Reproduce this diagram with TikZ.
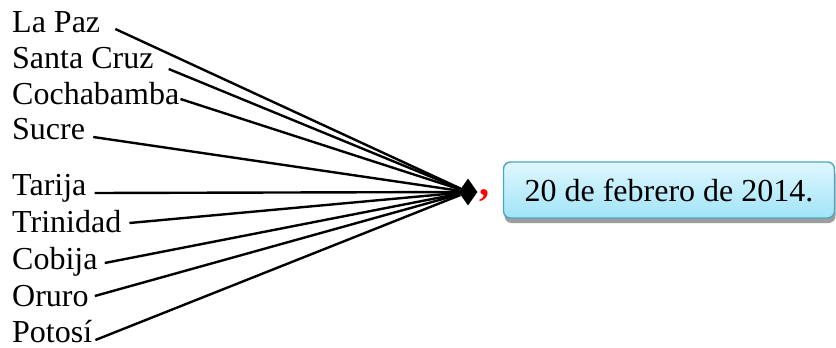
\documentclass[tikz,border=0pt]{standalone}
\usepackage{fontspec}
\setmainfont{Liberation Serif}
\usetikzlibrary{shapes.geometric,shadows}
\definecolor{boxtop}{RGB}{224,247,254}
\definecolor{boxbot}{RGB}{160,228,248}
\definecolor{boxline}{RGB}{78,166,194}

\begin{document}
\begin{tikzpicture}[
      x=1pt, y=-1pt,
      city/.style={anchor=base west, inner sep=0pt, font=\fontsize{32pt}{38pt}\selectfont},
      conn/.style={line width=2.4pt, color=black},
      hubmark/.style={diamond, fill=black, inner sep=0pt, minimum width=19pt, minimum height=27pt},
      datebox/.style={rounded corners=7pt, draw=boxline, line width=1.4pt, top color=boxtop, bottom color=boxbot,
        minimum width=331pt, minimum height=56pt, inner sep=0pt, font=\fontsize{32pt}{38pt}\selectfont,
        drop shadow={shadow xshift=1pt, shadow yshift=-5pt, opacity=0.55, fill=black!70}}
    ]
      \useasboundingbox (0,0) rectangle (836,348);

      % cities
      \node[city] (lapaz) at (12,32) {La Paz};
      \node[city] (santacruz) at (12,68) {Santa Cruz};
      \node[city] (cochabamba) at (12,104) {Cochabamba};
      \node[city] (sucre) at (12,139) {Sucre};
      \node[city] (tarija) at (12,195) {Tarija};
      \node[city] (trinidad) at (12,232) {Trinidad};
      \node[city] (cobija) at (12,269) {Cobija};
      \node[city] (oruro) at (12,306) {Oruro};
      \node[city] (potosi) at (12,342) {Potosí};

      % meeting point
      \node[hubmark] (hub) at (468,192) {};
      \node[anchor=base west, inner sep=0pt, text=red, font=\bfseries\fontsize{40pt}{40pt}\selectfont] (comma) at (479,195) {,};

      % date
      \node[datebox] (date) at (669,190) {20 de febrero de 2014.};

      \draw[conn] ([shift={(15,-3)}]lapaz.base east) -- (hub);
      \draw[conn] ([shift={(15,1)}]santacruz.base east) -- (hub);
      \draw[conn] ([shift={(1,-5)}]cochabamba.base east) -- (hub);
      \draw[conn] ([shift={(8,-2)}]sucre.base east) -- (hub);
      \draw[conn] ([shift={(8,-2)}]tarija.base east) -- (hub);
      \draw[conn] ([shift={(8,-9)}]trinidad.base east) -- (hub);
      \draw[conn] ([shift={(7,-6)}]cobija.base east) -- (hub);
      \draw[conn] ([shift={(6,-10)}]oruro.base east) -- (hub);
      \draw[conn] ([shift={(3,-2)}]potosi.base east) -- (hub);
    \end{tikzpicture}
\end{document}
